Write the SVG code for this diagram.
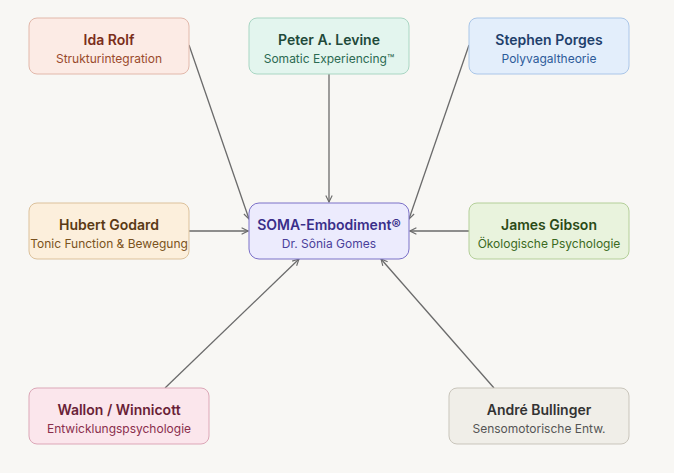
<svg xmlns="http://www.w3.org/2000/svg" width="674" height="473" viewBox="0 0 674 473">
<defs>
<marker id="arr" viewBox="0 0 10 10" refX="9" refY="5" markerWidth="8" markerHeight="8" markerUnits="userSpaceOnUse" orient="auto">
<path d="M1,1 L9,5 L1,9" fill="none" stroke="#6b6b6b" stroke-width="1.4"/>
</marker>
</defs>
<style>
.t{font-family:Inter,"Noto Sans","Liberation Sans",sans-serif;font-size:14px;font-weight:600;text-anchor:middle}
.s{font-family:Inter,"Noto Sans","Liberation Sans",sans-serif;font-size:12px;font-weight:400;text-anchor:middle}
.c{stroke:#6b6b6b;stroke-width:1.3;fill:none;marker-end:url(#arr)}
rect{stroke-width:1}
</style>
<rect width="674" height="473" fill="#f8f7f4"/>
<g id="connectors">
<line class="c" x1="189" y1="45" x2="249" y2="219"/>
<line class="c" x1="329" y1="74" x2="329" y2="202"/>
<line class="c" x1="469" y1="45" x2="409" y2="219"/>
<line class="c" x1="189" y1="231" x2="248" y2="231"/>
<line class="c" x1="469" y1="231" x2="410" y2="231"/>
<line class="c" x1="165" y1="388" x2="299" y2="259"/>
<line class="c" x1="494" y1="388" x2="381" y2="259"/>
</g>
<g id="ida-rolf">
<rect x="29" y="18" width="160" height="56" rx="8" fill="#fcebe5" stroke="#e2b8aa"/>
<text class="t" x="109" y="45" fill="#7a2e1a">Ida Rolf</text>
<text class="s" x="109" y="63" fill="#9a4a2c">Strukturintegration</text>
</g>
<g id="peter-levine">
<rect x="249" y="18" width="160" height="56" rx="8" fill="#e3f5ee" stroke="#a9d6c3"/>
<text class="t" x="329" y="45" fill="#1f4a3a">Peter A. Levine</text>
<text class="s" x="329" y="63" fill="#2b6a52">Somatic Experiencing™</text>
</g>
<g id="stephen-porges">
<rect x="469" y="18" width="160" height="56" rx="8" fill="#e3eefb" stroke="#aac6e8"/>
<text class="t" x="549" y="45" fill="#1f3f6b">Stephen Porges</text>
<text class="s" x="549" y="63" fill="#2d5b9a">Polyvagaltheorie</text>
</g>
<g id="hubert-godard">
<rect x="29" y="203" width="160" height="56" rx="8" fill="#fcefdc" stroke="#dcc19b"/>
<text class="t" x="109" y="230" fill="#5a3a14">Hubert Godard</text>
<text class="s" x="109" y="248" fill="#7a5220">Tonic Function &amp; Bewegung</text>
</g>
<g id="soma-embodiment">
<rect x="249" y="203" width="160" height="56" rx="10" fill="#ecebfd" stroke="#7b70c8" stroke-width="1.3"/>
<text class="t" x="329" y="230" fill="#3a2f8a">SOMA-Embodiment®</text>
<text class="s" x="329" y="248" fill="#4a3f9a">Dr. Sônia Gomes</text>
</g>
<g id="james-gibson">
<rect x="469" y="203" width="160" height="56" rx="8" fill="#e9f3dd" stroke="#b4cf99"/>
<text class="t" x="549" y="230" fill="#2b4a16">James Gibson</text>
<text class="s" x="549" y="248" fill="#3b6a22">Ökologische Psychologie</text>
</g>
<g id="wallon-winnicott">
<rect x="29" y="388" width="180" height="56" rx="8" fill="#fbe6ec" stroke="#dca7b7"/>
<text class="t" x="119" y="415" fill="#6a1f37">Wallon / Winnicott</text>
<text class="s" x="119" y="433" fill="#8a2e4c">Entwicklungspsychologie</text>
</g>
<g id="andre-bullinger">
<rect x="449" y="388" width="180" height="56" rx="8" fill="#f0eee8" stroke="#c9c5bb"/>
<text class="t" x="539" y="415" fill="#333333">André Bullinger</text>
<text class="s" x="539" y="433" fill="#555555">Sensomotorische Entw.</text>
</g>
</svg>
